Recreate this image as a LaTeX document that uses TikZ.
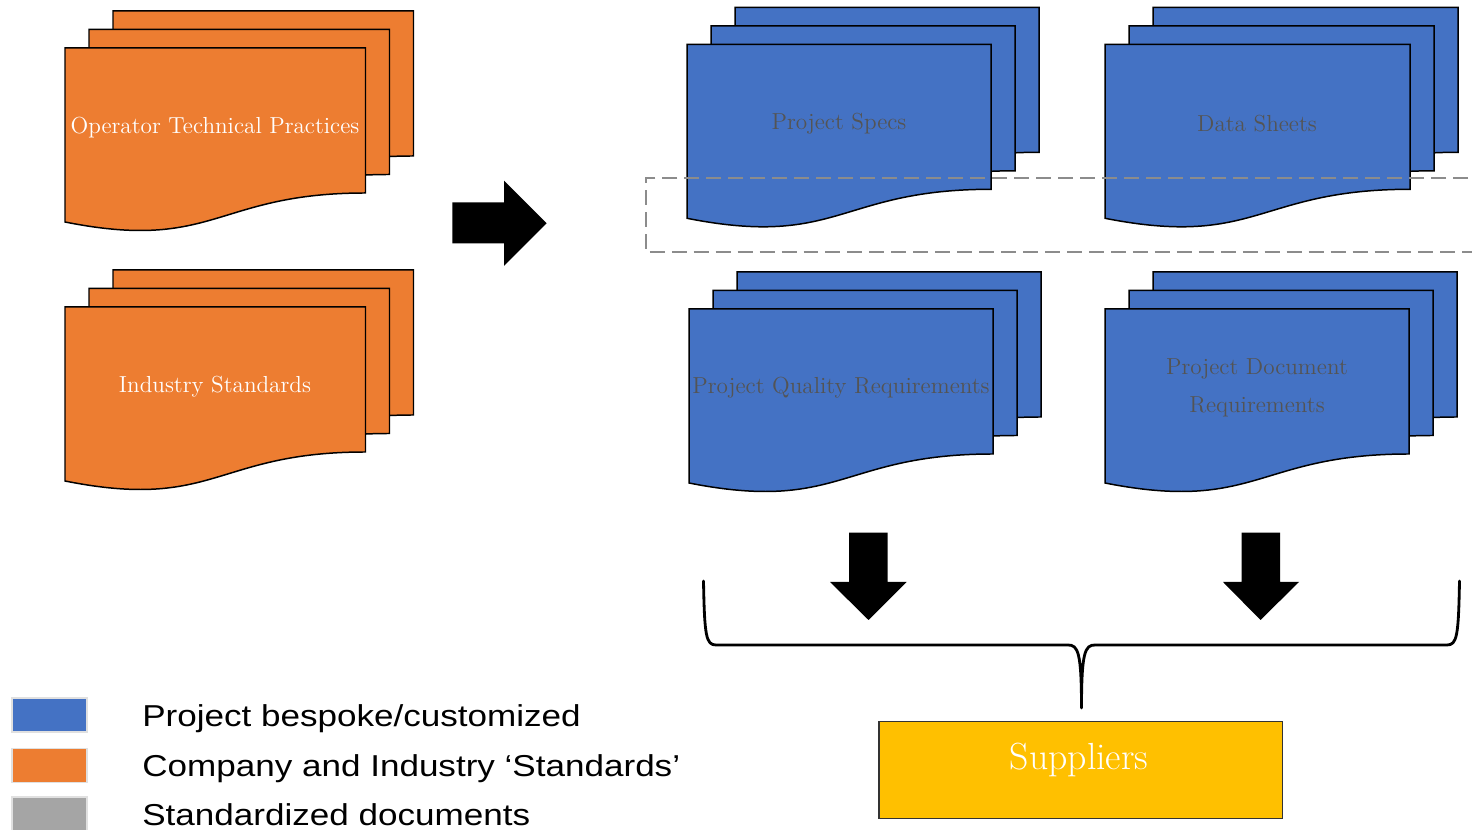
\documentclass[tikz,border=0pt]{standalone}
\usepackage{fontspec}
\newfontfamily\legendfont[FakeStretch=1.16]{Liberation Sans}
\definecolor{docblue}{HTML}{4472C4}
\definecolor{docorange}{HTML}{ED7D31}
\definecolor{docgold}{HTML}{FFC000}
\definecolor{docgray}{HTML}{A5A5A5}
\definecolor{labelgray}{HTML}{545454}
\definecolor{dashgray}{HTML}{8C8C8C}

% one sheet with a wavy lower edge; #1,#2 = top-left corner, #3 = width, #4 = fill
\newcommand{\docsheet}[4]{%
  \filldraw[sheet, fill=#4] (#1,#2) -- ({#1+#3},#2) -- ({#1+#3},{#2+145})
    .. controls ({#1+#3/2},{#2+145}) and ({#1+#3/2},{#2+204}) .. (#1,{#2+174}) -- cycle;}
% a stack of three sheets, front sheet top-left at (#1,#2)
\newcommand{\multidoc}[4]{%
  \docsheet{#1+48}{#2-37}{#3}{#4}%
  \docsheet{#1+24}{#2-18.5}{#3}{#4}%
  \docsheet{#1}{#2}{#3}{#4}}

\tikzset{
  sheet/.style={draw=black, line width=0.85pt, line join=miter},
  doclabel/.style={font=\fontsize{13.2}{21.5}\selectfont, inner sep=0pt, align=center},
  whitelabel/.style={doclabel, text=white},
  greylabel/.style={doclabel, text=labelgray},
  blockarrow/.style={fill=black, draw=none},
  legsq/.style={draw=black!12, line width=0.6pt, minimum width=1.5cm, minimum height=0.68cm, inner sep=0pt},
  legtext/.style={font=\legendfont\fontsize{17.2}{20}\selectfont, anchor=base west, inner sep=0pt},
}

\begin{document}
\begin{tikzpicture}[x=0.02cm, y=-0.02cm]
\useasboundingbox (0,0) rectangle (1472,830);

% standards stacks
\multidoc{65}{48}{300.5}{docorange}
\multidoc{65}{307}{300.5}{docorange}
\node[whitelabel] (otp) at (215,128) {Operator Technical Practices};
\node[whitelabel] (ind) at (215,387) {Industry Standards};

% project stacks
\multidoc{687}{44.3}{304}{docblue}
\multidoc{1105}{44.3}{305}{docblue}
\multidoc{689}{309}{304}{docblue}
\multidoc{1105}{309}{304}{docblue}
\node[greylabel] (specs) at (839,124) {Project Specs};
\node[greylabel] (sheets) at (1257,124) {Data Sheets};
\node[greylabel] (quality) at (841,388) {Project Quality Requirements};
\node[greylabel] (docreq) at (1257,388) {Project Document\\Requirements};

% dashed frame across the lower part of the upper row
\draw[dashgray, line width=1.1pt, dash pattern=on 8.5pt off 4pt]
  (1490,178) -- (645.7,178) -- (645.7,252) -- (1490,252);

% block arrows
\fill[blockarrow] (452.3,202.3) -- (504,202.3) -- (504,180.7) -- (546.7,223.3)
  -- (504,266) -- (504,243.3) -- (452.3,243.3) -- cycle;
\fill[blockarrow] (849,532.7) -- (887.5,532.7) -- (887.5,582) -- (906.5,582)
  -- (868.5,620) -- (830,582) -- (849,582) -- cycle;
\fill[blockarrow] (1241.5,532.7) -- (1280,532.7) -- (1280,582) -- (1299,582)
  -- (1260.5,620) -- (1223,582) -- (1241.5,582) -- cycle;

% suppliers
\node[draw=black!80, line width=0.7pt, fill=docgold, minimum width=8.07cm,
  minimum height=1.94cm, inner sep=0pt] (sup) at (1080.75,769.8) {};
\node[font=\fontsize{21.5}{25}\selectfont, text=white, inner sep=0pt] (suplabel)
  at (1079,760) {Suppliers};

% brace gathering the project documents
\coordinate (bracetip) at (1081.5,708);
\draw[black, line width=1.6pt, line cap=round, line join=round]
  (703.5,581) .. controls (704.5,636) and (706,645) .. (716,645) -- (1068,645)
  .. controls (1078,645) and (1081.5,652) .. (bracetip)
  .. controls (1081.5,652) and (1085,645) .. (1095,645) -- (1447,645)
  .. controls (1457,645) and (1458.5,636) .. (1459.5,581);

% legend
\node[legsq, fill=docblue] (legblue) at (49.5,715) {};
\node[legsq, fill=docorange] (legorange) at (49.5,765.5) {};
\node[legsq, fill=docgray] (leggray) at (49.5,814) {};
\node[legtext] (txtblue) at (142,726.7) {Project bespoke/customized};
\node[legtext] (txtorange) at (142,776.7) {Company and Industry ‘Standards’};
\node[legtext] (txtgray) at (142,825.5) {Standardized documents};
\end{tikzpicture}
\end{document}
